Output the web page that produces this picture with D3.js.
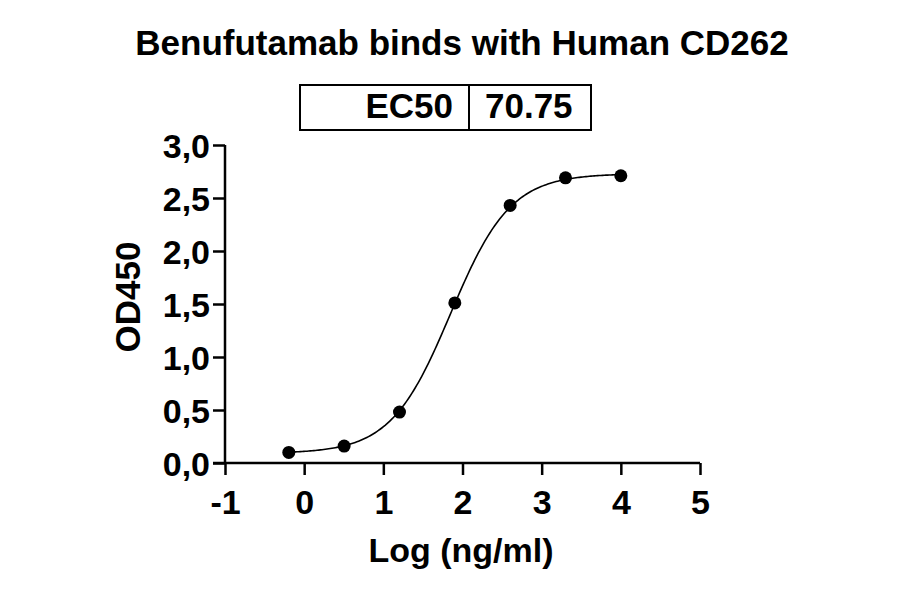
<!DOCTYPE html>
<html><head><meta charset="utf-8">
<script src="https://cdn.jsdelivr.net/npm/d3@7"></script>
<style>body{margin:0;background:#fff}text{font-family:"Liberation Sans",Arial,sans-serif;font-weight:bold;fill:#000}</style>
</head><body><svg id="c" width="900" height="594"></svg>
<script>
const logConc = [-0.194, 0.505, 1.204, 1.903, 2.602, 3.301, 4.0];
const od450 = [0.10, 0.16, 0.48, 1.51, 2.43, 2.69, 2.71];
const xTicks = [-1, 0, 1, 2, 3, 4, 5];
const yTicks = [0, 0.5, 1.0, 1.5, 2.0, 2.5, 3.0];
const title = "Benufutamab binds with Human CD262";
const ec50Label = "EC50", ec50Value = "70.75";
// 4PL fit parameters
const fitBottom = 0.09, fitTop = 2.73, fitLogEC50 = Math.log10(70.75), fitHill = 1.15;

const svg = d3.select("#c");
const x = d3.scaleLinear().domain([-1, 5]).range([225, 700]);
const y = d3.scaleLinear().domain([0, 3]).range([463, 145]);

svg.append("text").attr("x", 462).attr("y", 55).attr("text-anchor", "middle")
  .style("font-size", "35px").text(title);

// EC50 box
const box = svg.append("g");
box.append("rect").attr("x", 300).attr("y", 85).attr("width", 291).attr("height", 45)
  .attr("fill", "none").attr("stroke", "#000").attr("stroke-width", 2);
box.append("line").attr("x1", 469).attr("x2", 469).attr("y1", 85).attr("y2", 130)
  .attr("stroke", "#000").attr("stroke-width", 2);
box.append("text").attr("x", 453).attr("y", 118).attr("text-anchor", "end").style("font-size", "35px").text(ec50Label);
box.append("text").attr("x", 485).attr("y", 118).style("font-size", "35px").text(ec50Value);

const fmt = d => d3.format(".1f")(d).replace(".", ",");
const ya = svg.append("g").attr("transform", "translate(225,0)")
  .call(d3.axisLeft(y).tickValues(yTicks).tickFormat(fmt).tickSize(12).tickPadding(3));
const xa = svg.append("g").attr("transform", "translate(0,463)")
  .call(d3.axisBottom(x).tickValues(xTicks).tickFormat(d => String(d)).tickSize(12).tickPadding(15));
[ya, xa].forEach(a => {
  a.select(".domain").remove();
  a.selectAll(".tick line").attr("stroke", "#000").attr("stroke-width", 2.5);
  a.selectAll(".tick text").style("font-size", "34px").attr("fill", "#000");
});
ya.selectAll(".tick text").attr("dy", "0.36em");
// axis lines
svg.append("line").attr("x1", 225).attr("x2", 225).attr("y1", y(3)).attr("y2", 463)
  .attr("stroke", "#000").attr("stroke-width", 2.5);
svg.append("line").attr("x1", 213).attr("x2", 700).attr("y1", 463).attr("y2", 463)
  .attr("stroke", "#000").attr("stroke-width", 2.5);

svg.append("text").attr("x", 461).attr("y", 562).attr("text-anchor", "middle")
  .style("font-size", "34px").text("Log (ng/ml)");
svg.append("text").attr("transform", "translate(140,297) rotate(-90)").attr("text-anchor", "middle")
  .style("font-size", "35px").text("OD450");

// fit curve
const f = v => fitBottom + (fitTop - fitBottom) / (1 + Math.pow(10, (fitLogEC50 - v) * fitHill));
const xs = d3.range(0, 201).map(i => logConc[0] + (logConc[6] - logConc[0]) * i / 200);
svg.append("path").datum(xs).attr("fill", "none").attr("stroke", "#000").attr("stroke-width", 1.6)
  .attr("d", d3.line().x(d => x(d)).y(d => y(f(d))));

svg.selectAll("circle").data(logConc).join("circle")
  .attr("cx", d => x(d)).attr("cy", (d, i) => y(od450[i])).attr("r", 6.5).attr("fill", "#000");
</script></body></html>
